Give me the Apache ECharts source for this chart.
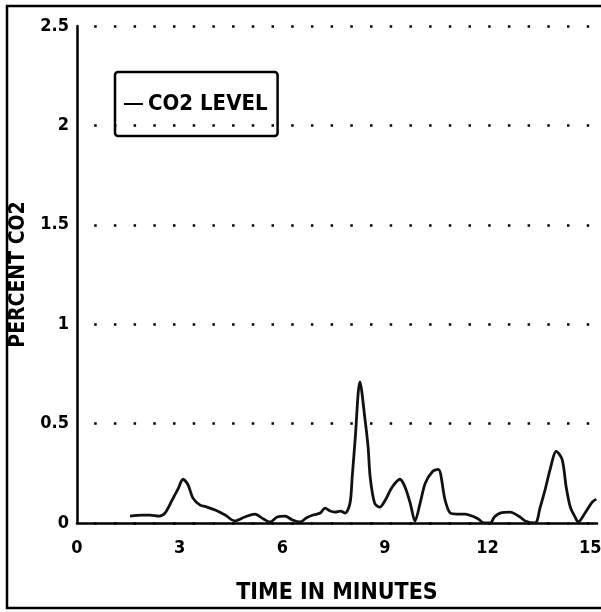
<!DOCTYPE html>
<html>
<head>
<meta charset="utf-8">
<script src="https://cdn.jsdelivr.net/npm/echarts@6/dist/echarts.min.js"></script>
<style>
  html, body { margin: 0; padding: 0; background: #fff; }
  #chart { width: 601px; height: 612px; }
</style>
</head>
<body>
<div id="chart"></div>
<script>
// CO2 trace: time (minutes) and percent CO2
const timeMin = [1.55, 1.9, 2.13, 2.4, 2.57, 2.78, 2.95, 3.10, 3.25, 3.39, 3.60, 3.8, 4.04, 4.33, 4.62, 4.9, 5.20, 5.45, 5.64, 5.85, 6.08, 6.3, 6.52, 6.7, 6.90, 7.11, 7.25, 7.4, 7.54, 7.7, 7.84, 7.98, 8.04, 8.13, 8.27, 8.42, 8.51, 8.57, 8.7, 8.85, 9.01, 9.21, 9.44, 9.59, 9.74, 9.88, 10.03, 10.18, 10.4, 10.56, 10.76, 10.91, 11.1, 11.35, 11.55, 11.73, 11.9, 12.08, 12.2, 12.37, 12.66, 12.95, 13.10, 13.39, 13.54, 13.68, 13.83, 14.01, 14.18, 14.30, 14.42, 14.56, 14.65, 14.85, 15.06, 15.18];
const co2Pct = [0.035, 0.04, 0.04, 0.035, 0.05, 0.115, 0.17, 0.22, 0.19, 0.125, 0.09, 0.08, 0.065, 0.04, 0.01, 0.03, 0.045, 0.02, 0.005, 0.03, 0.035, 0.015, 0.005, 0.025, 0.04, 0.05, 0.075, 0.06, 0.055, 0.06, 0.05, 0.1, 0.22, 0.42, 0.71, 0.52, 0.38, 0.23, 0.1, 0.08, 0.115, 0.18, 0.22, 0.18, 0.1, 0.01, 0.1, 0.2, 0.26, 0.27, 0.115, 0.05, 0.045, 0.045, 0.035, 0.02, 0, 0, 0.03, 0.05, 0.055, 0.03, 0.01, 0, 0.08, 0.165, 0.27, 0.36, 0.32, 0.18, 0.08, 0.03, 0.005, 0.05, 0.105, 0.12];

const seriesName = 'CO2 LEVEL';
const xTitle = 'TIME IN MINUTES';
const yTitle = 'PERCENT CO2';

const FONT = "'Liberation Sans Narrow', 'DejaVu Sans Condensed', 'Liberation Sans', sans-serif";

const chart = echarts.init(document.getElementById('chart'), null, { renderer: 'canvas' });

chart.setOption({
  backgroundColor: '#ffffff',
  animation: false,
  grid: { left: 77, top: 26, right: 4, bottom: 89, containLabel: false, outerBoundsMode: 'none' },
  legend: {
    left: 115,
    top: 72,
    itemWidth: 19,
    itemHeight: 2,
    itemGap: 6,
    padding: [21, 10, 21, 9],
    borderColor: '#000',
    borderWidth: 2.5,
    borderRadius: 3,
    icon: 'rect',
    textStyle: { fontFamily: FONT, fontWeight: 'bold', fontSize: 22, color: '#000' },
    data: [seriesName]
  },
  xAxis: {
    type: 'value',
    min: 0,
    max: 15.2,
    interval: 3,
    name: xTitle,
    nameLocation: 'middle',
    nameGap: 59,
    nameTextStyle: { fontFamily: FONT, fontWeight: 'bold', fontSize: 23, color: '#000' },
    axisLine: { show: true, onZero: false, lineStyle: { color: '#000', width: 2.5 } },
    axisTick: { show: false },
    splitLine: { show: false },
    axisLabel: {
      showMaxLabel: false,
      margin: 16,
      fontFamily: FONT, fontWeight: 'bold', fontSize: 18, color: '#000'
    }
  },
  yAxis: {
    type: 'value',
    min: 0,
    max: 2.5,
    interval: 0.5,
    name: yTitle,
    nameLocation: 'middle',
    nameGap: 46,
    nameTextStyle: { fontFamily: FONT, fontWeight: 'bold', fontSize: 21, color: '#000' },
    axisLine: { show: true, lineStyle: { color: '#000', width: 2.5 } },
    axisTick: { show: false },
    axisLabel: {
      margin: 8,
      fontFamily: FONT, fontWeight: 'bold', fontSize: 18, color: '#000'
    },
    splitLine: {
      show: true,
      lineStyle: { color: '#000', width: 2.5, type: [2.5, 17.2], dashOffset: -17.2 }
    }
  },
  graphic: [
    {
      type: 'rect',
      shape: { x: 7, y: 6, width: 604, height: 602 },
      style: { fill: 'none', stroke: '#000', lineWidth: 2.5 },
      silent: true
    }
  ],
  series: [
    {
      name: seriesName,
      type: 'line',
      data: timeMin.map((t, i) => [t, co2Pct[i]]),
      showSymbol: false,
      smooth: 0.3,
      color: '#000',
      lineStyle: { color: '#111', width: 2.8 }
    }
  ]
});
</script>
</body>
</html>
